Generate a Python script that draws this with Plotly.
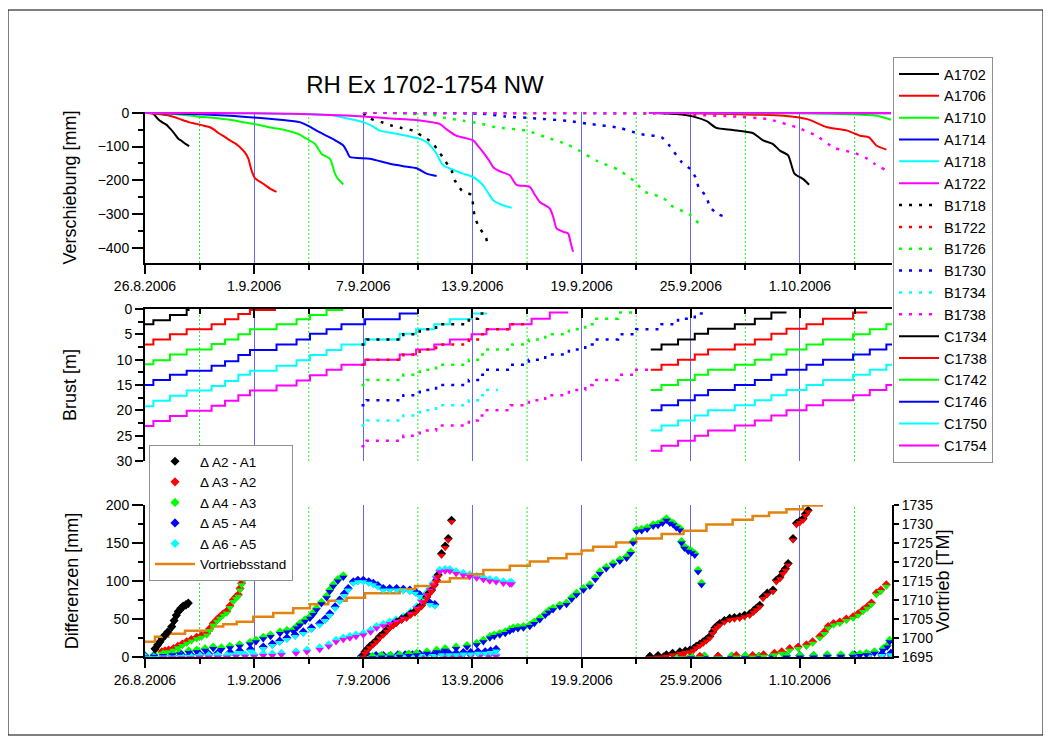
import plotly.graph_objects as go
import pandas as pd

# ---------------- data (days after 26.8.2006) ----------------
BASE = pd.Timestamp("2006-08-26")
X_END_DAYS = 41.06

major_tick_days = [0, 6, 12, 18, 24, 30, 36]
major_tick_text = ["26.8.2006", "1.9.2006", "7.9.2006", "13.9.2006", "19.9.2006", "25.9.2006", "1.10.2006"]
minor_tick_days = [3, 9, 15, 21, 27, 33, 39]

# --- top panel: Verschiebung [mm] ---
A1702_d = [0, 0.3, 0.45, 0.65, 0.82, 1.0, 1.19, 1.4, 1.56, 1.7, 1.83, 2.0, 2.1, 2.25, 2.43]
A1702_v = [0, -1, -3, -15, -24, -30, -36, -48, -58, -68, -77, -83, -87, -93, -99]
A1706_d = [0, 0.5, 1.19, 1.6, 1.92, 2.4, 2.84, 3.2, 3.57, 3.8, 4.03, 4.4, 4.67, 5.0, 5.22, 5.5, 5.68, 5.86, 6.04, 6.5, 6.9, 7.23]
A1706_v = [0, -3, -7, -13, -19, -28, -33, -38, -43, -50, -60, -72, -82, -92, -102, -118, -136, -171, -193, -210, -225, -234]
A1710_d = [0, 1, 2, 2.84, 3.7, 4.67, 5.4, 5.95, 6.5, 7.05, 7.6, 8.15, 8.5, 8.88, 9.34, 9.5, 9.71, 10.16, 10.3, 10.44, 10.6, 10.9]
A1710_v = [0, -2, -6, -11, -15, -21, -28, -33, -39, -45, -50, -58, -65, -77, -92, -105, -122, -136, -155, -180, -195, -212]
A1714_d = [0, 2, 4.67, 5.95, 7.42, 8.5, 9.0, 9.43, 10.16, 10.5, 10.9, 11.1, 11.26, 12.36, 13.46, 14.2, 14.93, 15.48, 16.03]
A1714_v = [0, -3, -9, -14, -21, -28, -40, -53, -73, -83, -97, -115, -131, -136, -151, -158, -164, -180, -187]
A1718_d = [0, 6, 10.16, 11.2, 12, 12.5, 12.9, 13.6, 14.38, 15.0, 15.48, 15.8, 16.03, 16.2, 16.4, 17.0, 17.49, 18.04, 18.3, 18.59, 18.9, 19.14, 19.6, 20.15]
A1718_v = [0, -2, -7, -18, -28, -40, -53, -60, -68, -76, -87, -105, -122, -140, -156, -170, -180, -190, -200, -215, -240, -259, -272, -281]
A1722_d = [0, 8, 12, 13.5, 14.74, 15.5, 16.2, 16.6, 17.1, 18.04, 18.3, 18.59, 18.9, 19.14, 19.5, 20.05, 20.42, 21.15, 21.4, 21.7, 22.25, 22.45, 22.62, 23.0, 23.26, 23.4, 23.53]
A1722_v = [0, -3, -11, -17, -21, -26, -33, -50, -68, -82, -98, -117, -140, -161, -173, -185, -213, -219, -240, -264, -283, -310, -342, -352, -357, -385, -411]
B1718_d = [12, 12.36, 13, 13.55, 14.1, 14.74, 15.2, 15.75, 16.12, 16.48, 16.85, 17.03, 17.4, 17.95, 18.04, 18.13, 18.37, 18.74, 18.86]
B1718_v = [0, -17, -28, -38, -45, -53, -68, -87, -112, -141, -171, -200, -229, -244, -278, -308, -339, -369, -399]
B1722_d = [12, 16, 20, 24, 28]
B1722_v = [0, -1, -2, -2, -3]
B1726_d = [12, 14, 16, 16.4, 17.5, 18.5, 19.3, 20.97, 22.07, 23.26, 23.8, 24.9, 26.0, 27.0, 27.4, 28.5, 28.9, 30.0, 30.45]
B1726_v = [0, -2, -8, -14, -24, -33, -43, -53, -73, -95, -110, -144, -168, -207, -232, -252, -274, -303, -328]
B1730_d = [12, 16, 18.5, 19.8, 21.5, 23.2, 24.4, 26.1, 27.2, 28.4, 28.85, 29.5, 30.0, 30.3, 30.45, 30.86, 31.04, 31.5, 32.1]
B1730_v = [0, -1, -3, -11, -17, -24, -33, -45, -63, -73, -99, -146, -168, -195, -224, -247, -278, -300, -310]
B1734_d = [12, 20, 28]
B1734_v = [0, -1, -2]
B1738_d = [12, 20, 28.5, 30.5, 32.3, 34.2, 35.8, 36.9, 37.9, 39.0, 39.6, 40.1, 40.66]
B1738_v = [0, 0, -2, -7, -11, -19, -43, -68, -104, -119, -133, -151, -168]
C1734_d = [27.7, 29.2, 30.1, 30.9, 31.4, 32.3, 33.4, 33.97, 34.5, 34.9, 35.35, 35.7, 36.2, 36.5]
C1734_v = [0, -4, -11, -26, -45, -51, -60, -82, -92, -112, -126, -180, -197, -213]
C1738_d = [27.7, 32.3, 35.1, 36.4, 37.5, 38.6, 39.3, 39.8, 40.2, 40.75]
C1738_v = [0, -4, -9, -19, -43, -53, -68, -73, -97, -109]
C1742_d = [27.7, 36, 38.9, 40.3, 41]
C1742_v = [0, -2, -5, -10, -21]
C1746_d = [27.7, 41]
C1746_v = [0, -2]
C1750_d = [27.7, 41]
C1750_v = [0, -1]
C1754_d = [27.7, 41]
C1754_v = [0, -1]

# --- middle panel: Brust [m] (step lines) ---
steps_A = [0.46, 1.37, 2.29, 3.66, 4.40, 5.13, 5.77, 7.23, 8.33, 9.07, 9.98, 10.8,
           12.1, 14.0, 14.9, 15.9, 16.76, 17.95, 18.77, 20.05, 21.25, 22.25]
steps_B = [12.18, 14.2, 15.1, 16.0, 17.8, 18.3, 18.7, 20.1, 21.1, 22.0, 23.3, 24.2,
           24.6, 26.0, 27.0, 28.39, 29.3, 30.22]
steps_C = [28.39, 29.30, 30.22, 30.95, 32.42, 33.52, 34.43, 35.26, 36.36, 37.27, 38.92, 39.84, 40.75]

brust_A1702 = [3, 2.2, 1.2, 0.2]
brust_A1706 = [7, 6, 5, 4, 3, 2, 1, 0.2]
brust_A1710 = [10.9, 10.1, 9, 8, 6.9, 6, 5, 4, 3, 2, 1.2, 0.2]
brust_A1714 = [15, 14, 13, 12.2, 11.2, 10.3, 9.1, 8.1, 7, 6, 4.9, 4, 3, 2, 0.9]
brust_A1718 = [19.2, 18.1, 17.1, 16.1, 15.2, 14.2, 13, 12.2, 11.2, 10.1, 9.1, 8.1, 7, 6, 4.9, 4, 3, 2, 0.9]
brust_A1722 = [23.1, 22.1, 21.1, 20.1, 19.1, 18.1, 17, 16.1, 15.1, 14.1, 13.1, 12, 11, 10, 9, 8, 7, 6, 5, 4, 3, 1.9, 0.7]
brust_B1718 = [7, 6, 5, 4, 3, 1.9, 0.9]
brust_B1722 = [11, 10, 9, 8, 7, 6, 5, 4, 3]
brust_B1726 = [15, 14, 13, 12, 11, 10, 9, 8, 7, 6, 5, 4, 3, 1.9, 0.7]
brust_B1730 = [19, 18, 17, 16, 15, 14, 13, 12, 11, 10, 9, 8, 7, 6, 5, 4, 3, 1.9, 0.9]
brust_B1734 = [23, 22, 21, 20, 19, 18, 17, 16]
brust_B1738 = [27.1, 26, 25, 24, 23, 22, 21, 20, 19, 18, 17, 16, 15, 14, 13, 12]
brust_C1734 = [8, 7, 6, 4.9, 3.9, 3, 1.9, 0.7]
brust_C1738 = [12, 11, 10, 9, 8, 7, 6, 4.9, 3.9, 3, 1.9, 0.7]
brust_C1742 = [16, 15, 14, 13, 12, 11, 10, 9, 8, 7, 6, 5, 4, 3]
brust_C1746 = [20, 19, 18, 17, 16, 15, 14, 13, 12, 11, 10, 9, 8, 7]
brust_C1750 = [24, 23, 22, 21, 20, 19, 18, 17, 16, 15, 14, 13, 12, 11]
brust_C1754 = [28, 27, 26, 25, 24, 23, 22, 21, 20, 19, 18, 17, 16, 15]
brust_span = {
    "A1702": (0, 2.45), "A1706": (0, 7.2), "A1710": (0, 10.9), "A1714": (0, 15.0),
    "A1718": (0, 18.8), "A1722": (0, 23.26),
    "B1718": (11.9, 18.6), "B1722": (11.9, 21.0), "B1726": (11.9, 27.0), "B1730": (11.9, 31.0),
    "B1734": (11.9, 19.4), "B1738": (11.9, 27.8),
    "C1734": (27.8, 35.26), "C1738": (27.8, 39.7), "C1742": (27.8, 41.06), "C1746": (27.8, 41.06),
    "C1750": (27.8, 41.06), "C1754": (27.8, 41.06),
}

# --- bottom panel: Differenzen [mm] ---
dA21_d = [0.55, 0.7, 0.82, 0.95, 1.1, 1.25, 1.47, 1.6, 1.72, 1.83, 1.97, 2.1, 2.25, 2.38]
dA21_v = [11, 16, 20, 25, 29, 33, 40, 48, 55, 60, 64, 67, 69, 71]
dA32_d = [0.92, 1.1, 1.3, 1.56, 1.8, 2.05, 2.29, 2.55, 2.84, 3.1, 3.39, 3.55, 3.75, 3.95, 4.12, 4.3,
          4.49, 4.67, 4.85, 5.0, 5.13, 5.22, 5.31, 5.45, 5.59, 5.77, 5.95, 6.2, 6.5, 6.8, 7.1]
dA32_v = [7, 8, 9, 11, 14, 17, 20, 23, 26, 28, 31, 37, 44, 49, 53, 57, 60, 67, 75, 79, 82, 90, 97,
          104, 110, 117, 125, 140, 160, 175, 188]
dA43_d = [0, 0.5, 1, 1.5, 1.92, 2.4, 2.84, 3.3, 3.75, 4.2, 4.67, 5.2, 5.77, 6.1, 6.5, 6.9, 7.42, 7.8,
          8.15, 8.35, 8.52, 8.8, 9.07, 9.25, 9.43, 9.7, 9.98, 10.15, 10.35, 10.6, 10.9]
dA43_v = [2, 3, 4, 5, 6, 8, 9, 11, 13, 12, 14, 16, 19, 22, 26, 29, 33, 35, 36, 40, 44, 49, 53, 58, 64,
          72, 80, 88, 95, 102, 107]
dA54_d = [0, 0.5, 1, 1.5, 2, 2.5, 3, 3.5, 4, 4.67, 5.2, 5.8, 6.5, 7.0, 7.4, 7.8, 8.25, 8.7, 9.15, 9.6,
          9.9, 10.16, 10.45, 10.7, 10.95, 11.17, 11.45, 11.7, 12.0, 12.3, 12.55, 12.8, 13.1, 13.45,
          13.83, 14.2, 14.56, 14.85, 15.1, 15.4, 15.66, 15.93]
dA54_v = [1, 1, 2, 2, 3, 3, 4, 4, 5, 6, 8, 10, 13, 17, 21, 25, 29, 33, 38, 44, 50, 57, 66, 75, 83, 90,
          99, 101, 101, 99, 97, 94, 90, 90, 90, 89, 88, 86, 82, 77, 71, 69]
dA65_d = [0, 0.5, 1, 1.5, 2, 2.5, 3, 3.5, 4, 4.5, 5, 5.5, 6, 6.5, 7, 7.5, 8.3, 8.9, 9.6, 10.1, 10.5,
          10.9, 11.26, 11.6, 12.0, 12.4, 12.73, 13.1, 13.46, 13.8, 14.2, 14.6, 14.93, 15.2, 15.48,
          15.66, 15.84, 16.0, 16.2, 16.5, 16.76, 17.1, 17.49, 17.85, 18.23, 18.6, 18.95, 19.3, 19.7,
          20.05, 20.15]
dA65_v = [0, 0, 1, 1, 1, 1, 2, 2, 2, 2, 3, 3, 3, 4, 4, 5, 7, 9, 12, 16, 22, 25, 27, 29, 31, 35, 40,
          43, 46, 49, 53, 59, 66, 75, 84, 90, 97, 106, 114, 115, 115, 112, 110, 108, 106, 104, 102,
          101, 99, 98, 98]
dB21_d = [12.0, 12.09, 12.2, 12.36, 12.55, 12.73, 12.9, 13.1, 13.3, 13.46, 13.65, 13.83, 14.1, 14.38,
          14.6, 14.84, 15.0, 15.2, 15.35, 15.48, 15.6, 15.75, 15.9, 16.03, 16.12, 16.3, 16.5, 16.67, 16.85]
dB21_v = [2, 7, 10, 14, 18, 22, 27, 31, 36, 40, 43, 46, 50, 53, 57, 60, 64, 68, 74, 79, 84, 88, 95,
          101, 108, 136, 146, 156, 180]
dB43_d = [12.0, 12.5, 13, 13.5, 14, 14.5, 14.93, 15.5, 16.03, 16.5, 17.1, 17.7, 18.23, 18.6, 18.96,
          19.2, 19.5, 19.8, 20.05, 20.24, 20.5, 20.8, 21.15, 21.4, 21.7, 22.0, 22.2, 22.43, 22.8, 23.17,
          23.45, 23.72, 24.1, 24.45, 24.75, 25.0, 25.35, 25.73, 26.1, 26.47, 26.7, 26.83, 27.02, 27.3,
          27.6, 27.93, 28.2, 28.45, 28.66, 28.85, 29.03, 29.2, 29.4, 29.49, 29.65, 29.86, 30.05, 30.22,
          30.4, 30.59]
dB43_v = [1, 1, 2, 2, 3, 4, 5, 7, 9, 11, 13, 15, 18, 22, 27, 29, 31, 33, 36, 38, 39, 40, 42, 46, 51,
          57, 61, 64, 68, 71, 78, 84, 90, 95, 104, 112, 118, 123, 128, 132, 138, 152, 167, 168, 170,
          174, 175, 178, 182, 178, 176, 172, 169, 152, 145, 141, 139, 136, 114, 97]
dB54_d = [11.9, 12.3, 12.7, 13.1, 13.5, 13.9, 14.3, 14.7, 15.1, 15.5, 15.9, 16.3, 16.7, 17.1, 17.5,
          17.9, 18.3, 18.7, 19.0, 19.3]
dB54_v = [1, 1, 2, 2, 2, 3, 3, 3, 4, 4, 4, 5, 5, 5, 6, 6, 7, 7, 8, 10]
dB65_d = [11.9, 12.4, 12.9, 13.4, 13.9, 14.4, 14.9, 15.4, 15.9, 16.4, 16.9, 17.4, 17.9, 18.4, 18.9, 19.3]
dB65_v = [0, 0, 1, 1, 1, 1, 1, 2, 2, 2, 2, 2, 3, 3, 3, 3]
dC21_d = [27.75, 28.2, 28.66, 29.0, 29.4, 29.7, 29.95, 30.15, 30.3, 30.5, 30.68, 30.85, 31.04, 31.2,
          31.32, 31.45, 31.59, 31.85, 32.14, 32.4, 32.69, 32.95, 33.24, 33.45, 33.6, 33.79, 33.97,
          34.2, 34.52, 34.7, 34.9, 35.07, 35.2, 35.35, 35.62, 35.81, 36.0, 36.17, 36.3, 36.45]
dC21_v = [1, 2, 3, 5, 7, 8, 9, 11, 14, 17, 20, 23, 27, 33, 38, 41, 44, 48, 51, 52, 53, 55, 57, 61, 64,
          68, 79, 84, 88, 101, 105, 112, 116, 123, 156, 176, 179, 182, 188, 193]
dC32_d = [27.75, 28.5, 29.5, 30.5, 31.5, 32.5, 33.4, 34.0, 34.6, 35.0, 35.44, 35.9, 36.36, 36.7, 37.09,
          37.35, 37.55, 37.85, 38.19, 38.55, 38.92, 39.2, 39.47, 39.7, 39.93, 40.2, 40.45, 40.75]
dC32_v = [0, 0, 1, 1, 1, 2, 2, 3, 5, 7, 11, 13, 16, 20, 27, 33, 40, 44, 46, 50, 53, 57, 62, 66, 71, 84,
          88, 95]
dC43_d = [27.75, 28.5, 29.25, 30, 30.75, 31.5, 32.25, 33, 33.75, 34.5, 35.25, 36, 36.75, 37.5, 38.25,
          38.9, 39.3, 39.65, 40.1, 40.57, 40.8, 40.93]
dC43_v = [0, 0, 0, 1, 1, 1, 1, 1, 1, 2, 2, 2, 2, 3, 3, 3, 4, 5, 7, 11, 15, 22]
dC54_d = [27.75, 28.5, 29.25, 30, 30.75, 31.5, 32.25, 33, 33.75, 34.5, 35.25, 36, 36.75, 37.5, 38.25,
          39, 39.75, 40.5, 41]
dC54_v = [0, 0, 1, 1, 1, 1, 1, 1, 1, 2, 2, 2, 2, 2, 2, 3, 3, 4, 5]
dC65_d = [27.75, 28.5, 29.25, 30, 30.75, 31.5, 32.25, 33, 33.75, 34.5, 35.25, 36, 36.75, 37.5, 38.25,
          39, 39.75, 40.5, 41]
dC65_v = [0, 0, 0, 0, 1, 1, 1, 1, 1, 1, 1, 1, 1, 1, 1, 1, 2, 2, 2]

vortrieb_d = [0, 0.55, 1.28, 2.2, 3.66, 4.3, 5.04, 5.95, 7.05, 8.15, 9.07, 10.07, 11.08, 12.09, 14.0,
              14.84, 15.84, 16.76, 17.8, 18.6, 20.05, 21.15, 22.16, 23.17, 24.0, 24.63, 25.9, 27.0,
              28.4, 29.6, 30.86, 32.3, 33.4, 34.3, 35.26, 36.17, 37.27]
vortrieb_tm = [1699, 1700.3, 1701.1, 1701.9, 1703, 1703.6, 1704.3, 1705.6, 1706.6, 1707.8, 1708.9,
               1709.8, 1710.6, 1711.8, 1712.8, 1713.7, 1714.8, 1715.7, 1716.8, 1717.9, 1719, 1720.1,
               1721, 1722.1, 1723, 1724, 1725.1, 1726.2, 1727.4, 1728.2, 1729.9, 1731.1, 1732.1, 1733,
               1733.9, 1734.9, 1734.9]

# ---------------- helpers ----------------
BLACK, RED, GREEN, BLUE, CYAN, MAGENTA = "#000000", "#ff0000", "#00ff00", "#0000ff", "#00ffff", "#ff00ff"
ORANGE = "#e2820f"
FONT = "Arial, 'Liberation Sans', sans-serif"

# page body has an 8px margin -> figure is 8px smaller and shifted
W, H = 1043, 736
ML, MT = 137, 104
MR, MB = W - 884, H - 649
PW, PH = W - ML - MR, H - MT - MB


def px(ref_x):  # reference pixel x -> paper x
    return (ref_x - 8 - ML) / PW


def py(ref_y):  # reference pixel y -> paper y
    return (H - MB - (ref_y - 8)) / PH


def dt(days):
    return [BASE + pd.Timedelta(days=float(v)) for v in days]


def stair(name, levels, steps):
    start, end = brust_span[name]
    st = [s for s in steps if s > start][:len(levels) - 1]
    return dt([start] + st + [end]), list(levels) + [levels[-1]]


fig = go.Figure()

# ---- top panel ----
top_series = [
    ("A1702", A1702_d, A1702_v, BLACK, "solid"), ("A1706", A1706_d, A1706_v, RED, "solid"),
    ("A1710", A1710_d, A1710_v, GREEN, "solid"), ("A1714", A1714_d, A1714_v, BLUE, "solid"),
    ("A1718", A1718_d, A1718_v, CYAN, "solid"), ("A1722", A1722_d, A1722_v, MAGENTA, "solid"),
    ("B1718", B1718_d, B1718_v, BLACK, "dot"), ("B1722", B1722_d, B1722_v, RED, "dot"),
    ("B1726", B1726_d, B1726_v, GREEN, "dot"), ("B1730", B1730_d, B1730_v, BLUE, "dot"),
    ("B1734", B1734_d, B1734_v, CYAN, "dot"), ("B1738", B1738_d, B1738_v, MAGENTA, "dot"),
    ("C1734", C1734_d, C1734_v, BLACK, "solid"), ("C1738", C1738_d, C1738_v, RED, "solid"),
    ("C1742", C1742_d, C1742_v, GREEN, "solid"), ("C1746", C1746_d, C1746_v, BLUE, "solid"),
    ("C1750", C1750_d, C1750_v, CYAN, "solid"), ("C1754", C1754_d, C1754_v, MAGENTA, "solid"),
]
DOT = "3px,7px"
for name, dd, vv, col, dash in top_series:
    fig.add_trace(go.Scatter(
        x=dt(dd), y=vv, name=name, mode="lines", xaxis="x", yaxis="y", legend="legend",
        line=dict(color=col, width=2.5 if dash == "dot" else 2, dash=DOT if dash == "dot" else "solid",
                  shape="spline", smoothing=0.6),
    ))

# ---- middle panel ----
brust_series = [
    ("A1702", brust_A1702, steps_A, BLACK, "solid"), ("A1706", brust_A1706, steps_A, RED, "solid"),
    ("A1710", brust_A1710, steps_A, GREEN, "solid"), ("A1714", brust_A1714, steps_A, BLUE, "solid"),
    ("A1718", brust_A1718, steps_A, CYAN, "solid"), ("A1722", brust_A1722, steps_A, MAGENTA, "solid"),
    ("B1718", brust_B1718, steps_B, BLACK, "dot"), ("B1722", brust_B1722, steps_B, RED, "dot"),
    ("B1726", brust_B1726, steps_B, GREEN, "dot"), ("B1730", brust_B1730, steps_B, BLUE, "dot"),
    ("B1734", brust_B1734, steps_B, CYAN, "dot"), ("B1738", brust_B1738, steps_B, MAGENTA, "dot"),
    ("C1734", brust_C1734, steps_C, BLACK, "solid"), ("C1738", brust_C1738, steps_C, RED, "solid"),
    ("C1742", brust_C1742, steps_C, GREEN, "solid"), ("C1746", brust_C1746, steps_C, BLUE, "solid"),
    ("C1750", brust_C1750, steps_C, CYAN, "solid"), ("C1754", brust_C1754, steps_C, MAGENTA, "solid"),
]
for name, lv, steps, col, dash in brust_series:
    xs, ys = stair(name, lv, steps)
    fig.add_trace(go.Scatter(
        x=xs, y=ys, name=name, mode="lines", xaxis="x2", yaxis="y2", showlegend=False,
        line=dict(color=col, width=2.5 if dash == "dot" else 2, dash=DOT if dash == "dot" else "solid",
                  shape="hv"),
    ))

# ---- bottom panel: two-coloured diamonds (upper colour = diamond, lower half = triangle) ----
diff_series = [
    ("\u0394 A2 - A1", dA21_d, dA21_v, BLACK, BLACK, True),
    ("\u0394 A3 - A2", dA32_d, dA32_v, RED, GREEN, True),
    ("\u0394 A4 - A3", dA43_d, dA43_v, GREEN, BLUE, True),
    ("\u0394 A5 - A4", dA54_d, dA54_v, BLUE, CYAN, True),
    ("\u0394 A6 - A5", dA65_d, dA65_v, CYAN, MAGENTA, True),
    ("\u0394 B6 - B5", dB65_d, dB65_v, CYAN, MAGENTA, False),
    ("\u0394 B5 - B4", dB54_d, dB54_v, BLUE, CYAN, False),
    ("\u0394 B4 - B3", dB43_d, dB43_v, GREEN, BLUE, False),
    ("\u0394 B2 - B1", dB21_d, dB21_v, BLACK, RED, False),
    ("\u0394 C6 - C5", dC65_d, dC65_v, CYAN, MAGENTA, False),
    ("\u0394 C5 - C4", dC54_d, dC54_v, BLUE, CYAN, False),
    ("\u0394 C4 - C3", dC43_d, dC43_v, GREEN, BLUE, False),
    ("\u0394 C3 - C2", dC32_d, dC32_v, RED, GREEN, False),
    ("\u0394 C2 - C1", dC21_d, dC21_v, BLACK, RED, False),
]
MSIZE = 7
for i, (name, dd, vv, ctop, cbot, leg) in enumerate(diff_series):
    fig.add_trace(go.Scatter(
        x=dt(dd), y=vv, name=name, mode="markers", xaxis="x3", yaxis="y3",
        legend="legend2", showlegend=leg, legendgroup="g%d" % i,
        marker=dict(symbol="diamond", size=MSIZE, color=ctop, line=dict(width=0)),
    ))
for i, (name, dd, vv, ctop, cbot, leg) in enumerate(diff_series):
    fig.add_trace(go.Scatter(
        x=dt(dd), y=vv, name=name, mode="markers", xaxis="x3", yaxis="y5",
        legend="legend2", showlegend=False, legendgroup="g%d" % i, hoverinfo="skip",
        marker=dict(symbol="triangle-down", size=MSIZE, color=cbot, line=dict(width=0)),
    ))

fig.add_trace(go.Scatter(
    x=dt(vortrieb_d), y=vortrieb_tm, name="Vortriebsstand", mode="lines",
    xaxis="x3", yaxis="y4", legend="legend2",
    line=dict(color=ORANGE, width=2.5, shape="hv"),
))

# ---------------- layout ----------------
xrange_ = [BASE, BASE + pd.Timedelta(days=X_END_DAYS)]
tickfont = dict(family=FONT, size=14, color="black")
titlefont = dict(family=FONT, size=18, color="black")
grid = dict(showgrid=True, gridcolor="rgb(100,100,255)", gridwidth=1)
minor_common = dict(tickvals=dt(minor_tick_days), showgrid=False, tickcolor="black", tickwidth=1.5)
xcommon = dict(type="date", range=xrange_, tickmode="array", tickvals=dt(major_tick_days),
               ticktext=major_tick_text, showline=True, linecolor="black", linewidth=2,
               tickcolor="black", tickwidth=1.5, zeroline=False, tickfont=tickfont, **grid)

bottom_h_px = 657 - 505
shift_units = (MSIZE / 4.0) * 200.0 / bottom_h_px   # lower half sits MSIZE/4 px below the point

# dotted green helper grid lines at the minor (3-day) positions, one per panel
minor_grid_shapes = []
for yref in ["y domain", "y2 domain", "y3 domain"]:
    for xv in dt(minor_tick_days):
        minor_grid_shapes.append(dict(
            type="line", xref="x", yref=yref, x0=xv, x1=xv, y0=0, y1=1, layer="below",
            line=dict(color="#22ee22", width=1, dash="2px,2px")))

fig.update_layout(
    width=W, height=H, margin=dict(l=ML, r=MR, t=MT, b=MB, autoexpand=False),
    paper_bgcolor="white", plot_bgcolor="white",
    font=dict(family=FONT, color="black"),
    title=dict(text="RH Ex 1702-1754 NW", x=px(425), xref="paper", xanchor="center",
               y=1 - (85 - 8) / H, yref="container", yanchor="middle",
               font=dict(family=FONT, size=24, color="black")),
    xaxis=dict(anchor="y", ticks="outside", ticklen=9, showticklabels=True,
               minor=dict(ticks="outside", ticklen=5, **minor_common), **xcommon),
    xaxis2=dict(anchor="y2", matches="x", side="top", ticks="inside", ticklen=9,
                showticklabels=False, minor=dict(ticks="inside", ticklen=5, **minor_common), **xcommon),
    xaxis3=dict(anchor="y3", matches="x", ticks="outside", ticklen=9, showticklabels=True,
                minor=dict(ticks="outside", ticklen=5, **minor_common), **xcommon),
    yaxis=dict(domain=[py(263), 1], range=[-444, 2], tickvals=[0, -100, -200, -300, -400],
               ticks="outside", ticklen=11, tickwidth=1.5, tickcolor="black",
               minor=dict(tickvals=[-50, -150, -250, -350], ticks="outside", ticklen=5,
                          tickcolor="black", tickwidth=1.5),
               showline=True, linecolor="black", linewidth=2, showgrid=False, zeroline=False,
               tickfont=tickfont, title=dict(text="Verschiebung [mm]", font=titlefont, standoff=16)),
    yaxis2=dict(domain=[py(461), py(309)], range=[30, 0], tickvals=[0, 5, 10, 15, 20, 25, 30],
                ticks="outside", ticklen=8, tickwidth=1.5, tickcolor="black",
                minor=dict(tickvals=[2.5, 7.5, 12.5, 17.5, 22.5, 27.5], ticks="outside", ticklen=5,
                           tickcolor="black", tickwidth=1.5),
                showline=True, linecolor="black", linewidth=2, showgrid=False, zeroline=False,
                tickfont=tickfont, title=dict(text="Brust [m]", font=titlefont, standoff=35)),
    yaxis3=dict(domain=[0, py(505)], range=[0, 200], tickvals=[0, 50, 100, 150, 200],
                ticks="outside", ticklen=11, tickwidth=1.5, tickcolor="black",
                minor=dict(tickvals=[25, 75, 125, 175], ticks="outside", ticklen=5,
                           tickcolor="black", tickwidth=1.5),
                showline=True, linecolor="black", linewidth=2, showgrid=False, zeroline=False,
                tickfont=tickfont, title=dict(text="Differenzen [mm]", font=titlefont, standoff=23)),
    yaxis4=dict(overlaying="y3", anchor="x3", side="right", range=[1695, 1735],
                tickvals=[1695, 1700, 1705, 1710, 1715, 1720, 1725, 1730, 1735],
                ticks="outside", ticklen=5, tickwidth=1.5, tickcolor="black",
                showline=True, linecolor="black", linewidth=2, showgrid=False, zeroline=False,
                tickfont=tickfont, title=dict(text="Vortrieb [TM]", font=titlefont, standoff=0)),
    yaxis5=dict(overlaying="y3", anchor="x3", visible=False,
                range=[shift_units, 200 + shift_units]),
    legend=dict(x=px(893), y=py(57), xanchor="left", yanchor="top", bgcolor="white",
                bordercolor="#909090", borderwidth=1, font=dict(family=FONT, size=14.5, color="black"),
                traceorder="normal", itemwidth=40, maxheight=700, entrywidth=88, entrywidthmode="pixels"),
    legend2=dict(x=px(149), y=py(445), xanchor="left", yanchor="top", bgcolor="white",
                 bordercolor="#909090", borderwidth=1, font=dict(family=FONT, size=13.5, color="black"),
                 traceorder="normal", itemwidth=40, maxheight=400, entrywidth=102,
                 entrywidthmode="pixels"),
    shapes=[dict(type="rect", xref="paper", yref="paper", x0=px(8), x1=px(1043), y0=py(735), y1=py(10),
                 line=dict(color="black", width=1), fillcolor="rgba(0,0,0,0)", layer="below")]
           + minor_grid_shapes,
)

fig.write_html("out.html")
